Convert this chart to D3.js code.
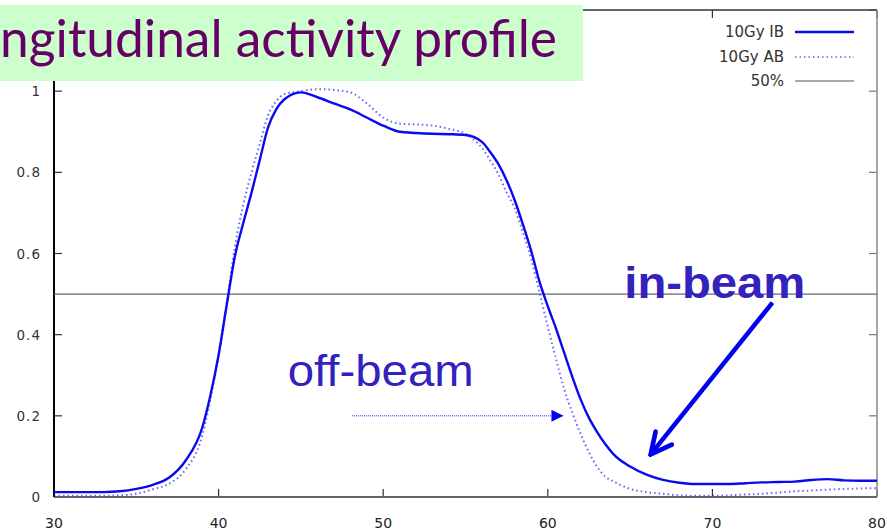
<!DOCTYPE html>
<html>
<head>
<meta charset="utf-8">
<script src="https://cdn.jsdelivr.net/npm/d3@7"></script>
<style>
  body { margin: 0; background: #fff; }
  svg { display: block; }
</style>
</head>
<body>
<div id="chart"></div>
<script>
// Depth positions (mm) and normalised activity
const depth = [30,31,32,33,34,35,36,37,38,39,39.5,40,40.5,41,41.5,42,42.5,43,43.5,44,45,46,47,48,49,50,51,52,53,54,55,56,56.5,57,57.5,58,58.5,59,59.5,60,60.5,61,61.5,62,62.5,63,63.5,64,65,66,67,68,69,70,71,72,73,74,75,76,77,78,79,80];
const ib10 = [0.012,0.012,0.012,0.012,0.014,0.02,0.03,0.048,0.09,0.17,0.25,0.35,0.475,0.595,0.675,0.75,0.83,0.91,0.955,0.98,0.997,0.985,0.97,0.955,0.935,0.915,0.9,0.897,0.895,0.894,0.892,0.875,0.85,0.82,0.78,0.73,0.67,0.605,0.53,0.47,0.415,0.355,0.295,0.24,0.195,0.16,0.13,0.105,0.075,0.055,0.042,0.035,0.032,0.032,0.032,0.034,0.036,0.037,0.038,0.042,0.044,0.041,0.04,0.04];
const ab10 = [0.003,0.003,0.003,0.003,0.004,0.008,0.019,0.033,0.068,0.15,0.24,0.35,0.48,0.62,0.72,0.8,0.87,0.94,0.975,0.993,1.0,1.005,1.003,0.997,0.97,0.935,0.92,0.918,0.915,0.907,0.895,0.86,0.83,0.795,0.75,0.71,0.65,0.585,0.503,0.42,0.34,0.265,0.207,0.155,0.11,0.074,0.05,0.038,0.02,0.012,0.008,0.004,0.003,0.003,0.004,0.006,0.008,0.011,0.014,0.016,0.018,0.02,0.021,0.022];
const xTicks = [30,40,50,60,70,80];
const yTicks = [0,0.2,0.4,0.6,0.8,1,1.2];
const legendLabels = ['10Gy IB', '10Gy AB', '50%'];

const W = 887, H = 532;
const margin = { top: 10, right: 10, bottom: 35, left: 54 };
const width = W - margin.left - margin.right;
const height = H - margin.top - margin.bottom;

const svg = d3.select('#chart').append('svg')
    .attr('width', W).attr('height', H);

const g = svg.append('g')
    .attr('transform', `translate(${margin.left},${margin.top})`);

const x = d3.scaleLinear().domain([30, 80]).range([0, width]);
const y = d3.scaleLinear().domain([0, 1.2]).range([height, 0]);

const tickFont = 'DejaVu Sans, sans-serif';

// ticks (inward, mirrored on all sides)
xTicks.forEach(t => {
    g.append('line').attr('x1', x(t)).attr('x2', x(t)).attr('y1', height).attr('y2', height - 8)
        .attr('stroke', '#333').attr('stroke-width', 1.2);
    g.append('line').attr('x1', x(t)).attr('x2', x(t)).attr('y1', 0).attr('y2', 8)
        .attr('stroke', '#333').attr('stroke-width', 1.2);
    g.append('text').attr('x', x(t)).attr('y', height + 31)
        .attr('text-anchor', 'middle')
        .style('font-family', tickFont).style('font-size', '14px').style('fill', '#222')
        .text(t);
});
yTicks.forEach(t => {
    g.append('line').attr('x1', 0).attr('x2', 8).attr('y1', y(t)).attr('y2', y(t))
        .attr('stroke', '#333').attr('stroke-width', 1.2);
    g.append('line').attr('x1', width).attr('x2', width - 8).attr('y1', y(t)).attr('y2', y(t))
        .attr('stroke', '#777').attr('stroke-width', 1.2);
    g.append('text').attr('x', -13).attr('y', y(t) + 5)
        .attr('text-anchor', 'end')
        .style('font-family', tickFont).style('font-size', '13.5px').style('fill', '#333')
        .style('letter-spacing', '1px')
        .text(t);
});

// frame
g.append('line').attr('x1', 0).attr('x2', width).attr('y1', 0).attr('y2', 0)
    .attr('stroke', '#333').attr('stroke-width', 1.5);
g.append('line').attr('x1', width).attr('x2', width).attr('y1', 0).attr('y2', height)
    .attr('stroke', '#888').attr('stroke-width', 1.5);
g.append('line').attr('x1', 0).attr('x2', width).attr('y1', height).attr('y2', height)
    .attr('stroke', '#666').attr('stroke-width', 1.8);
g.append('line').attr('x1', 0).attr('x2', 0).attr('y1', 0).attr('y2', height)
    .attr('stroke', '#000').attr('stroke-width', 2);

// 50% line
g.append('line').attr('x1', 0).attr('x2', width).attr('y1', y(0.5)).attr('y2', y(0.5))
    .attr('stroke', '#666').attr('stroke-width', 1.3);

const line = d3.line().x((d, i) => x(depth[i])).y(d => y(d)).curve(d3.curveMonotoneX);

g.append('path').datum(ab10).attr('d', line)
    .attr('fill', 'none').attr('stroke', '#3030ff').attr('stroke-width', 2)
    .attr('stroke-dasharray', '1.5,3').attr('opacity', 0.75);
g.append('path').datum(ib10).attr('d', line)
    .attr('fill', 'none').attr('stroke', '#0a0aee').attr('stroke-width', 2.4);

// legend
const legend = svg.append('g');
const legY = [37, 62, 86];
legendLabels.forEach((lab, i) => {
    legend.append('text').attr('x', 784).attr('y', legY[i])
        .attr('text-anchor', 'end')
        .style('font-family', tickFont).style('font-size', '15px').style('fill', '#333')
        .text(lab);
});
legend.append('line').attr('x1', 795).attr('x2', 854).attr('y1', 32).attr('y2', 32)
    .attr('stroke', '#0a0aee').attr('stroke-width', 2.4);
legend.append('line').attr('x1', 795).attr('x2', 854).attr('y1', 57).attr('y2', 57)
    .attr('stroke', '#3030ff').attr('stroke-width', 1.5).attr('stroke-dasharray', '1.5,3').attr('opacity', 0.75);
legend.append('line').attr('x1', 795).attr('x2', 854).attr('y1', 81).attr('y2', 81)
    .attr('stroke', '#555').attr('stroke-width', 1.2);

// arrows
const defs = svg.append('defs');
defs.append('marker').attr('id', 'tri').attr('viewBox', '0 0 10 10')
    .attr('refX', 10).attr('refY', 5).attr('markerWidth', 15).attr('markerHeight', 12)
    .attr('markerUnits', 'userSpaceOnUse').attr('orient', 'auto')
    .append('path').attr('d', 'M0,0 L10,5 L0,10 Z').attr('fill', '#0000ee');
defs.append('marker').attr('id', 'open').attr('viewBox', '0 0 10 10')
    .attr('refX', 9).attr('refY', 5).attr('markerWidth', 26).attr('markerHeight', 26)
    .attr('markerUnits', 'userSpaceOnUse').attr('orient', 'auto')
    .append('path').attr('d', 'M1,1 L9,5 L1,9').attr('fill', 'none')
    .attr('stroke', '#0000ee').attr('stroke-width', 1.8).attr('stroke-linecap', 'round');

g.append('line').attr('x1', x(48.1)).attr('y1', y(0.2)).attr('x2', x(60.95)).attr('y2', y(0.2))
    .attr('stroke', '#2222ff').attr('stroke-width', 1).attr('stroke-dasharray', '1,1')
    .attr('marker-end', 'url(#tri)');
g.append('line').attr('x1', x(73.65)).attr('y1', y(0.479)).attr('x2', x(66.25)).attr('y2', y(0.105))
    .attr('stroke', '#0000ee').attr('stroke-width', 4.5)
    .attr('marker-end', 'url(#open)');

g.append('text').attr('x', x(44.2)).attr('y', y(0.273))
    .attr('textLength', 186).attr('lengthAdjust', 'spacingAndGlyphs')
    .style('font-family', 'Liberation Sans, Arial, sans-serif').style('font-size', '44px')
    .style('fill', '#3322bb').text('off-beam');
g.append('text').attr('x', x(64.65)).attr('y', y(0.49))
    .attr('textLength', 181).attr('lengthAdjust', 'spacingAndGlyphs')
    .style('font-family', 'Liberation Sans, Arial, sans-serif').style('font-size', '44px')
    .style('font-weight', 'bold').style('fill', '#3322bb').text('in-beam');

// title box
svg.append('rect').attr('x', 0).attr('y', 5).attr('width', 583).attr('height', 76)
    .attr('fill', '#ccffcc');
const titleFont = '"Comic Sans MS", Lato, sans-serif';
const probe = svg.append('text').style('font-family', titleFont).style('font-size', '40px')
    .text('ngitudinal activity profile');
const visW = probe.node().getComputedTextLength();
probe.remove();
const fs = 40 * 557 / visW;
svg.append('text').attr('x', 557).attr('y', 57).attr('text-anchor', 'end')
    .style('font-family', titleFont).style('font-size', fs + 'px')
    .style('fill', '#660066').text('Longitudinal activity profile');
</script>
</body>
</html>
